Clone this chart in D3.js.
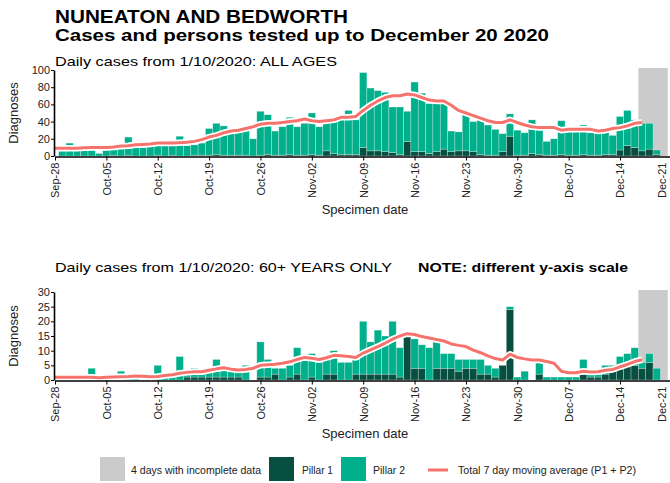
<!DOCTYPE html>
<html>
<head>
<meta charset="utf-8">
<script src="https://cdn.jsdelivr.net/npm/d3@7/dist/d3.min.js"></script>
<style>
  body { margin: 0; background: #fff; }
  text { font-family: "Liberation Sans", Arial, sans-serif; }
</style>
</head>
<body>
<div id="chart"></div>
<script>
// bars start on Sep 29, moving averages on Sep 28
var barStart = Date.UTC(2020, 8, 29)
var maStart = Date.UTC(2020, 8, 28)

var allP1 = [0,0,0,0,0,0,0,1,0,1,0,0,0,1,0,1,0,0,1,1,1,2,1,1,1,1,0,1,2,1,1,2,1,1,2,1,6,3,2,2,2,10,6,6,5,4,2,17,5,5,3,5,8,5,6,6,5,2,1,1,5,23,1,1,3,2,1,1,2,1,1,2,1,1,2,2,7,12,10,6,8,2,0]
var allP2 = [6,15,7,7,7,3,7,6,8,21,10,10,11,11,12,11,23,12,12,14,31,36,34,31,30,29,20,51,46,28,33,43,33,37,48,33,38,42,44,51,40,87,73,70,69,53,55,35,81,68,58,56,54,24,22,44,35,42,35,30,21,26,29,26,39,29,16,19,39,27,27,34,26,26,26,22,39,41,32,32,30,5,0]
var allMA = [9,9,9,9,9.5,10,10,10,10.5,11.5,12,13,13.5,14,15,15,15,15.5,16,17,19,22,24,27,29,30,32,34,37,38,38,39,40,41,43,41,40,41,42,45,45,46,53,59,64,68,70,70,72,71,68,65,64,64,59,53,50,47,44,41,39,39,42,39,36,34,33,33,33,30,31,31,31,31,29,30,32,33,35,38,39]

var oldP1 = [0,0,0,0,0,0,0,0,0,0,0,0,0,0,0,0,0,1,1,1,1,1,1,1,1,0,0,1,1,2,0,1,2,0,1,0,2,2,0,0,2,2,2,2,2,2,1,15,4,4,0,4,4,4,3,4,4,2,2,1,5,24,0,0,0,2,0,0,0,0,0,2,1,1,2,4,5,6,5,4,6,0,0]
var oldP2 = [1,0,1,0,4,0,1,1,3,1,1,0,1,5,1,1,8,1,3,1,2,6,3,2,2,5,0,12,6,2,4,4,9,7,8,6,5,8,6,6,5,18,11,15,13,18,10,0,10,8,11,9,5,5,4,3,3,5,3,3,0,1,1,3,0,4,1,1,1,1,1,5,1,1,3,1,3,3,6,2,3,4,0]
var oldMA = [0.9,0.9,0.9,0.9,0.9,0.9,0.8,0.9,1,1.1,1.2,1.4,1.3,1.1,1.2,1.5,1.8,2.3,2.6,2.8,2.8,3.3,3.8,4.2,3.7,3.4,3.6,4,5,5.2,5.4,5.7,6.2,7,7.7,7.4,7,7.6,8.4,8.3,8,7.7,9.2,10.3,11.4,12.6,13.9,15,15.8,15.5,14.8,14.3,13.8,13.3,12.3,11.8,11.4,10.2,9.3,8.2,7.3,6.8,8.8,7.7,7.2,6.8,6.8,6.3,5.7,3,2.5,2.5,3,2.7,2.8,3.3,3.6,4.5,5.3,6.3,6.9]

var tickLabels = ["Sep-28","Oct-05","Oct-12","Oct-19","Oct-26","Nov-02","Nov-09","Nov-16","Nov-23","Nov-30","Dec-07","Dec-14","Dec-21"]
var allTicks = [0,20,40,60,80,100]
var oldTicks = [0,5,10,15,20,25,30]

var incompleteFrom = Date.UTC(2020, 11, 17)
var incompleteTo = Date.UTC(2020, 11, 20)

var p1Color = "#074f40"
var p2Color = "#00b08c"
var maColor = "#f5736c"
var greyColor = "#cbcbcb"

var DAY = 86400000

var svg = d3.select("#chart").append("svg")
    .attr("width", 670)
    .attr("height", 483)

var x = d3.scaleUtc()
    .domain([Date.UTC(2020, 8, 28), Date.UTC(2020, 11, 21)])
    .range([55, 671.4])

var bw = x(maStart + DAY) - x(maStart)

var tickDates = tickLabels.map(function(d, i) { return new Date(Date.UTC(2020, 8, 28) + i * 7 * DAY) })

// titles
svg.append("text").attr("x", 55).attr("y", 23)
  .attr("textLength", 293).attr("lengthAdjust", "spacingAndGlyphs")
  .style("font-size", "18px").style("font-weight", "bold")
  .text("NUNEATON AND BEDWORTH")
svg.append("text").attr("x", 55).attr("y", 40.5)
  .attr("textLength", 494).attr("lengthAdjust", "spacingAndGlyphs")
  .style("font-size", "17px").style("font-weight", "bold")
  .text("Cases and persons tested up to December 20 2020")

function panel(top, bottom, p1, p2, ma, ticks, yMax) {
  var y = d3.scaleLinear().domain([0, yMax]).range([bottom, top])

  var rows = p1.map(function(v, i) {
    return { date: barStart + i * DAY, p1: v, p2: p2[i] }
  })
  var stack = d3.stack().keys(["p1", "p2"])(rows)

  var g = svg.append("g")

  g.append("rect")
    .attr("x", x(incompleteFrom - DAY / 2))
    .attr("y", top - 2)
    .attr("width", x(incompleteTo + DAY / 2) - x(incompleteFrom - DAY / 2))
    .attr("height", bottom - top + 2)
    .attr("fill", greyColor)

  g.selectAll(".layer")
    .data(stack)
    .enter()
    .append("g")
    .attr("fill", function(d, i) { return i === 0 ? p1Color : p2Color })
    .selectAll("rect")
    .data(function(d) { return d })
    .enter()
    .append("rect")
    .attr("x", function(d) { return x(d.data.date) - bw / 2 })
    .attr("width", bw)
    .attr("y", function(d) { return y(d[1]) })
    .attr("height", function(d) { return y(d[0]) - y(d[1]) })
    .attr("stroke", "#fff")
    .attr("stroke-opacity", 0.45)
    .attr("stroke-width", 0.6)

  var line = d3.line()
    .x(function(d, i) { return x(maStart + i * DAY) })
    .y(function(d) { return y(d) })

  g.append("path").datum(ma)
    .attr("d", line).attr("fill", "none")
    .attr("stroke", "#fff").attr("stroke-width", 6.5)
    .attr("stroke-linejoin", "round")
  g.append("path").datum(ma)
    .attr("d", line).attr("fill", "none")
    .attr("stroke", maColor).attr("stroke-width", 3)
    .attr("stroke-linejoin", "round")

  var yAxis = g.append("g")
    .attr("transform", "translate(" + 54 + ",0)")
    .call(d3.axisLeft(y).tickValues(ticks).tickSize(3).tickSizeOuter(0))
  yAxis.selectAll("text").style("font-size", "11px").attr("fill", "#222").attr("x", -4)
  yAxis.select(".domain").attr("stroke-width", 1.6)

  var xAxis = g.append("g")
    .attr("transform", "translate(0," + (bottom + 0.5) + ")")
    .call(d3.axisBottom(x).tickValues(tickDates).tickSize(4).tickSizeOuter(0)
      .tickFormat(function(d, i) { return tickLabels[i] }))
  xAxis.select(".domain").attr("stroke-width", 1.6)
  xAxis.selectAll("text")
    .style("font-size", "11px")
    .attr("fill", "#222")
    .attr("transform", "rotate(-90)")
    .attr("x", -6)
    .attr("y", function(d, i) { return i === tickLabels.length - 1 ? -10 : 0 })
    .attr("dy", "0.35em")
    .style("text-anchor", "end")

  g.append("text")
    .attr("transform", "translate(18," + ((top + bottom) / 2) + ") rotate(-90)")
    .style("text-anchor", "middle")
    .style("font-size", "13px")
    .attr("fill", "#222")
    .text("Diagnoses")

  g.append("text")
    .attr("x", 365).attr("y", bottom + 58)
    .style("text-anchor", "middle")
    .style("font-size", "13px")
    .attr("fill", "#222")
    .text("Specimen date")
}

svg.append("text").attr("x", 55).attr("y", 66)
  .attr("textLength", 282).attr("lengthAdjust", "spacingAndGlyphs")
  .style("font-size", "13px")
  .text("Daily cases from 1/10/2020: ALL AGES")
panel(70, 156, allP1, allP2, allMA, allTicks, 100)

svg.append("text").attr("x", 55).attr("y", 272)
  .attr("textLength", 337).attr("lengthAdjust", "spacingAndGlyphs")
  .style("font-size", "13px")
  .text("Daily cases from 1/10/2020: 60+ YEARS ONLY")
svg.append("text").attr("x", 418).attr("y", 272)
  .attr("textLength", 210).attr("lengthAdjust", "spacingAndGlyphs")
  .style("font-size", "13px").style("font-weight", "bold")
  .text("NOTE: different y-axis scale")
panel(292, 380, oldP1, oldP2, oldMA, oldTicks, 30)

// legend
var legend = svg.append("g")
var legendItems = [
  { kind: "rect", color: greyColor, x: 100, tx: 131, w: 130, label: "4 days with incomplete data" },
  { kind: "rect", color: p1Color, x: 269, tx: 302, w: 31, label: "Pillar 1" },
  { kind: "rect", color: p2Color, x: 341, tx: 373, w: 32, label: "Pillar 2" },
  { kind: "line", color: maColor, x: 428, tx: 458, w: 178, label: "Total 7 day moving average (P1 + P2)" }
]
legendItems.forEach(function(d) {
  if (d.kind === "rect") {
    legend.append("rect").attr("x", d.x).attr("y", 457).attr("width", 25).attr("height", 24).attr("fill", d.color)
  } else {
    legend.append("line").attr("x1", d.x).attr("x2", d.x + 20).attr("y1", 470).attr("y2", 470)
      .attr("stroke", d.color).attr("stroke-width", 3)
  }
  legend.append("text").attr("x", d.tx).attr("y", 474)
    .attr("textLength", d.w).attr("lengthAdjust", "spacingAndGlyphs")
    .style("font-size", "11px").attr("fill", "#222")
    .text(d.label)
})
</script>
</body>
</html>
